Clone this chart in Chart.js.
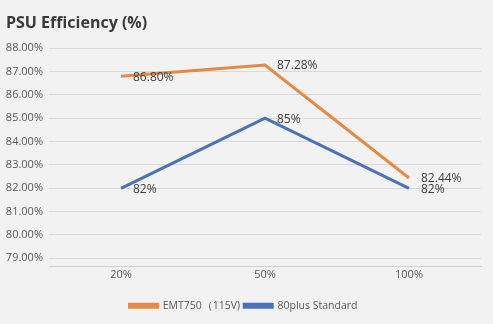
<!DOCTYPE html>
<html lang="en">
<head>
<meta charset="UTF-8">
<title>PSU Efficiency</title>
<script src="https://cdn.jsdelivr.net/npm/chart.js"></script>
<style>
  html, body { margin: 0; padding: 0; background: #f2f2f2; }
  #wrap { width: 493px; height: 324px; position: relative; }
</style>
</head>
<body>
<div id="wrap"><canvas id="myChart" width="493" height="324"></canvas></div>
<script>
const loads = ['20%', '50%', '100%'];
const emt750 = [86.80, 87.28, 82.44];
const plus80 = [82, 85, 82];
const emtLabels = ['86.80%', '87.28%', '82.44%'];
const plusLabels = ['82%', '85%', '82%'];
const yTicks = [79, 80, 81, 82, 83, 84, 85, 86, 87, 88];

// draws the value next to each point, like the original data labels
const pointLabels = {
    id: 'pointLabels',
    afterDatasetsDraw(chart) {
        const ctx = chart.ctx;
        ctx.save();
        ctx.font = '12px "Open Sans", sans-serif';
        ctx.fillStyle = '#404040';
        ctx.textBaseline = 'middle';
        chart.data.datasets.forEach((ds, i) => {
            chart.getDatasetMeta(i).data.forEach((pt, j) => {
                ctx.fillText(ds.valueLabels[j], pt.x + 12, pt.y + 1);
            });
        });
        ctx.restore();
    }
};

const ctx = document.getElementById('myChart').getContext('2d');
new Chart(ctx, {
    type: 'line',
    data: {
        labels: loads,
        datasets: [
            {
                label: 'EMT750（115V)',
                data: emt750,
                valueLabels: emtLabels,
                borderColor: '#e38a45',
                backgroundColor: '#e38a45',
                borderWidth: 3,
                pointRadius: 0,
                tension: 0
            },
            {
                label: '80plus Standard',
                data: plus80,
                valueLabels: plusLabels,
                borderColor: '#4a72b8',
                backgroundColor: '#4a72b8',
                borderWidth: 3,
                pointRadius: 0,
                tension: 0
            }
        ]
    },
    options: {
        responsive: false,
        animation: false,
        layout: { padding: { left: 6, right: 12, top: 0, bottom: 3 } },
        plugins: {
            title: {
                display: true,
                text: 'PSU Efficiency (%)',
                align: 'start',
                color: '#3a3a3a',
                font: { family: '"Open Sans", sans-serif', size: 16, weight: 'bold' },
                padding: { top: 14, bottom: 15 }
            },
            legend: {
                position: 'bottom',
                labels: {
                    color: '#595959',
                    font: { family: '"Open Sans", sans-serif', size: 10.5 },
                    boxWidth: 28,
                    boxHeight: 3,
                    padding: 4
                }
            },
            tooltip: { enabled: false }
        },
        scales: {
            x: {
                offset: true,
                afterFit: axis => { axis.height = 30; },
                grid: { display: false, drawTicks: false },
                border: { color: '#d0d0d0' },
                ticks: {
                    color: '#595959',
                    font: { family: '"Open Sans", sans-serif', size: 11 },
                    padding: 2
                }
            },
            y: {
                min: 78.65,
                max: 88,
                afterBuildTicks: axis => { axis.ticks = yTicks.map(v => ({ value: v })); },
                afterFit: axis => { axis.width = 43; },
                grid: { color: '#d9d9d9', drawTicks: false },
                border: { display: false },
                ticks: {
                    color: '#595959',
                    font: { family: '"Open Sans", sans-serif', size: 11 },
                    padding: 6,
                    callback: v => v.toFixed(2) + '%'
                }
            }
        }
    },
    plugins: [pointLabels]
});
</script>
</body>
</html>
